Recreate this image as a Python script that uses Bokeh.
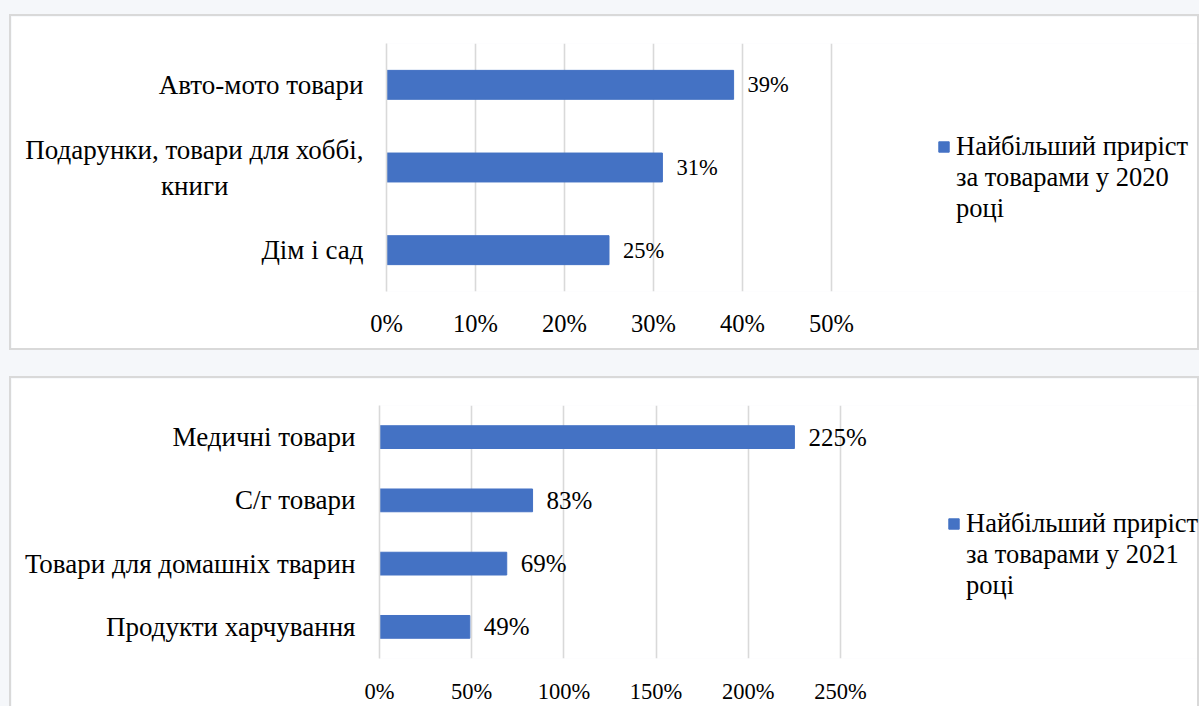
from bokeh.plotting import figure
from bokeh.models import (ColumnDataSource, Range1d, FactorRange, LabelSet, Legend,
                          LegendItem, PrintfTickFormatter, FixedTicker)
from bokeh.layouts import column
from bokeh.core.properties import value
from bokeh.embed import file_html
from bokeh.resources import INLINE

# ---- data ----
NB = "\u00a0"
cats_2020 = ["Дім і сад", "Подарунки, товари для хоббі,\nкниги" + NB * 20, "Авто-мото товари"]
vals_2020 = [25, 31, 39]
ticks_2020 = [0, 10, 20, 30, 40, 50]
legend_2020 = ["Найбільший приріст", "за товарами у 2020", "році"]

cats_2021 = ["Продукти харчування", "Товари для домашніх тварин", "С/г товари", "Медичні товари"]
vals_2021 = [49, 69, 83, 225]
ticks_2021 = [0, 50, 100, 150, 200, 250]
legend_2021 = ["Найбільший приріст", "за товарами у 2021", "році"]

FONT = "Liberation Serif"
BAR = "#4472C4"
GRID = "#d9d9d9"
BG = "#f5f7fa"


def make_panel(cats, vals, ticks, legend_lines, height, frame_left, frame_top,
               frame_bottom, grid_w, cat_size, tick_size, lab_size, leg_size,
               leg_loc, bar_h, tick_standoff, cat_standoff, css):
    W = 1190
    frame_w = W - frame_left
    x_end = ticks[-1] * frame_w / grid_w
    src = ColumnDataSource(dict(cat=cats, val=vals, lab=[f"{v}%" for v in vals]))
    p = figure(width=W, height=height, y_range=FactorRange(*cats),
               x_range=Range1d(0, x_end), output_backend="svg",
               toolbar_location=None, min_border_left=frame_left,
               min_border_right=0, min_border_top=frame_top,
               min_border_bottom=height - frame_bottom, styles=css)
    r = p.hbar(y="cat", left=0, right="val", height=bar_h, source=src,
               fill_color=BAR, line_color=BAR)
    # invisible renderer for continuation lines of the legend text
    r0 = p.hbar(y=[], left=[], right=[], height=bar_h, fill_alpha=0, line_alpha=0)
    p.outline_line_color = None
    p.background_fill_color = "white"
    p.border_fill_color = "white"
    p.ygrid.visible = False
    p.xgrid.ticker = FixedTicker(ticks=ticks)
    p.xgrid.grid_line_color = GRID
    p.xgrid.grid_line_width = 1.6
    p.xaxis.ticker = FixedTicker(ticks=ticks)
    p.xaxis.formatter = PrintfTickFormatter(format="%d%%")
    p.xaxis.axis_line_color = None
    p.xaxis.major_tick_line_color = None
    p.xaxis.minor_tick_line_color = None
    p.xaxis.major_label_text_font = FONT
    p.xaxis.major_label_text_font_size = f"{tick_size}px"
    p.xaxis.major_label_text_color = "black"
    p.xaxis.major_label_standoff = tick_standoff
    p.yaxis.axis_line_color = GRID
    p.yaxis.axis_line_width = 1.6
    p.yaxis.major_tick_line_color = None
    p.yaxis.minor_tick_line_color = None
    p.yaxis.major_tick_out = 0
    p.yaxis.major_tick_in = 0
    p.yaxis.major_label_text_font = FONT
    p.yaxis.major_label_text_font_size = f"{cat_size}px"
    p.yaxis.major_label_text_color = "black"
    p.yaxis.major_label_standoff = cat_standoff

    labels = LabelSet(x="val", y="cat", text="lab", source=src, x_offset=14,
                      text_align="left", text_baseline="middle",
                      text_font=value(FONT), text_font_size=value(f"{lab_size}px"),
                      text_color="black")
    p.add_layout(labels)

    items = [LegendItem(label=value(legend_lines[0]), renderers=[r])]
    for line in legend_lines[1:]:
        items.append(LegendItem(label=value(line), renderers=[r0]))
    legend = Legend(items=items,
                    location=leg_loc, padding=0, margin=0, spacing=0,
                    border_line_color=None, background_fill_alpha=0,
                    glyph_width=13, glyph_height=13, label_standoff=6,
                    label_height=31,
                    label_text_font=FONT, label_text_font_size=f"{leg_size}px",
                    label_text_color="black")
    p.add_layout(legend)
    return p


p1 = make_panel(cats_2020, vals_2020, ticks_2020, legend_2020, height=336,
                frame_left=375, frame_top=27, frame_bottom=275, grid_w=445,
                cat_size=27, tick_size=24.5, lab_size=22.5, leg_size=26.5,
                leg_loc=(551, 67), bar_h=0.35, tick_standoff=12, cat_standoff=23,
                css={"border": "2px solid #d9d9d9"})
p1.margin = (14, 0, 0, 9)

p2 = make_panel(cats_2021, vals_2021, ticks_2021, legend_2021, height=330,
                frame_left=368, frame_top=27, frame_bottom=280, grid_w=461,
                cat_size=27, tick_size=22.5, lab_size=25, leg_size=26.5,
                leg_loc=(568, 57), bar_h=0.36, tick_standoff=14, cat_standoff=24,
                css={"border": "2px solid #d9d9d9", "border-bottom": "none"})
p2.margin = (26, 0, 0, 9)

c1 = column(p1, styles={"background-color": BG})
c2 = column(p2, styles={"background-color": BG})

open("out.html", "w").write(file_html([c1, c2], INLINE))
